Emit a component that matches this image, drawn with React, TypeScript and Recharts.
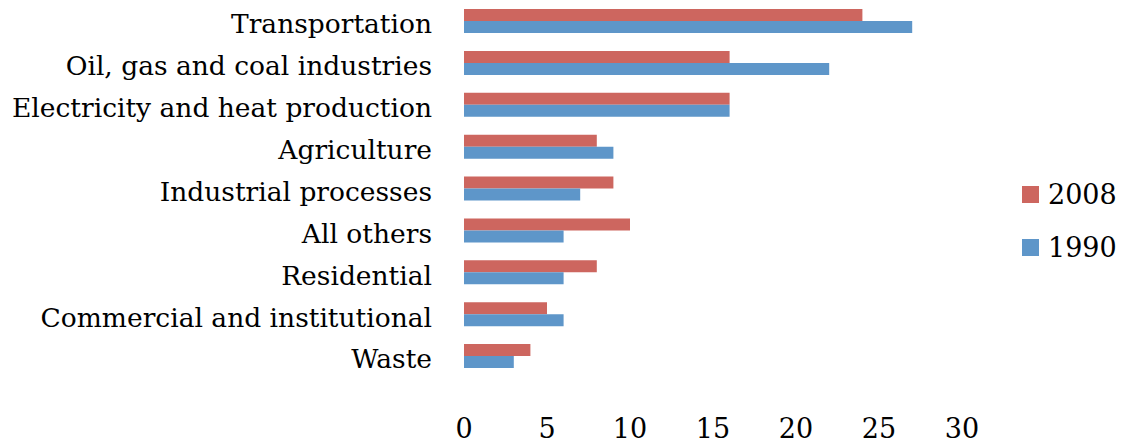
import React from 'react';
import { BarChart, Bar, XAxis, YAxis } from 'recharts';

const categories = [
  'Transportation',
  'Oil, gas and coal industries',
  'Electricity and heat production',
  'Agriculture',
  'Industrial processes',
  'All others',
  'Residential',
  'Commercial and institutional ',
  'Waste',
];
const values2008 = [24, 16, 16, 8, 9, 10, 8, 5, 4];
const values1990 = [27, 22, 16, 9, 7, 6, 6, 6, 3];
const xTicks = [0, 5, 10, 15, 20, 25, 30];
const seriesNames = ['2008', '1990'];

const RED = '#CD665F';
const BLUE = '#5E96C9';
const COLORS = [RED, BLUE];
const FONT = '"DejaVu Serif", serif';

const data = categories.map((name, i) => ({
  name,
  y2008: values2008[i],
  y1990: values1990[i],
}));

const App: React.FC = () => {
  return (
    <div style={{ position: 'absolute', left: 0, top: 0, width: 1121, height: 443, background: '#fff' }}>
      <BarChart
        width={1121}
        height={443}
        data={data}
        layout="vertical"
        margin={{ top: 0, right: 159, left: 0, bottom: 0 }}
        barSize={12}
        barGap={0}
      >
        <XAxis
          type="number"
          domain={[0, 30]}
          ticks={xTicks}
          axisLine={false}
          tickLine={false}
          tickMargin={36}
          height={66}
          tick={{ fill: '#000', fontSize: 27, fontFamily: FONT }}
          interval={0}
        />
        <YAxis
          type="category"
          dataKey="name"
          width={464}
          axisLine={false}
          tickLine={false}
          tickMargin={26}
          interval={0}
          tick={{ fill: '#000', fontSize: 26.5, fontFamily: FONT, dy: 3 }}
        />
        <Bar dataKey="y2008" name="2008" fill={RED} isAnimationActive={false} />
        <Bar dataKey="y1990" name="1990" fill={BLUE} isAnimationActive={false} />
      </BarChart>
      <div style={{ position: 'absolute', left: 1022, top: 168, fontFamily: FONT, fontSize: 27, color: '#000' }}>
        {seriesNames.map((label, i) => (
          <div key={label} style={{ display: 'flex', alignItems: 'center', height: 53 }}>
            <span style={{ width: 17, height: 17, background: COLORS[i], display: 'inline-block', marginRight: 9 }} />
            <span>{label}</span>
          </div>
        ))}
      </div>
    </div>
  );
};

export default App;
